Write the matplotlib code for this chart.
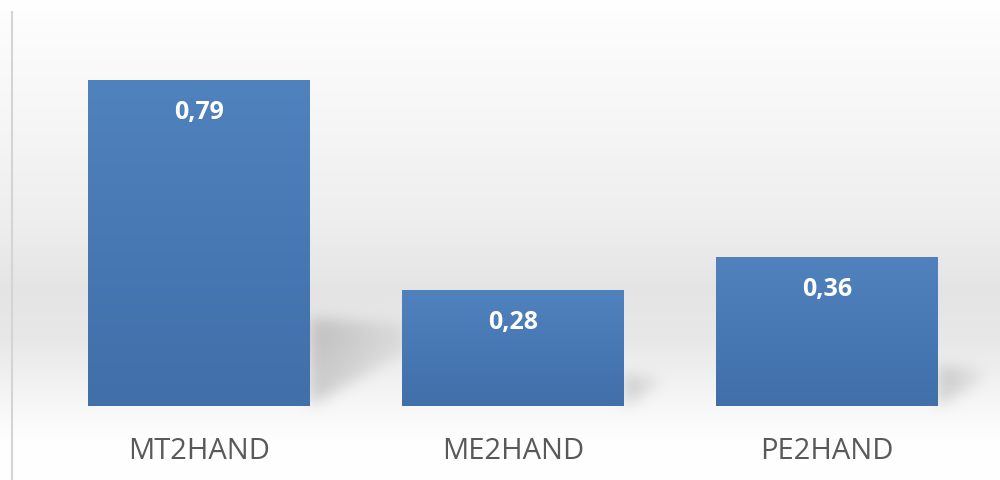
import numpy as np
import matplotlib.pyplot as plt
from matplotlib.path import Path

categories = ["MT2HAND", "ME2HAND", "PE2HAND"]
values = [0.79, 0.28, 0.36]
value_labels = ["0,79", "0,28", "0,36"]

W, H = 1000, 480
fig = plt.figure(figsize=(10, 4.8), dpi=100)

# plot area
ax = fig.add_axes([42 / W, 1 - 406 / H, 942 / W, 394 / H], zorder=2)
ax.set_xlim(-0.5, 2.5)
ax.set_ylim(0, 0.955)
ax.patch.set_alpha(0)
for s in ax.spines.values():
    s.set_visible(False)
ax.set_yticks([])
ax.set_xticks([])

x = np.arange(len(categories))
bars = ax.bar(x, values, width=0.707, color="#4a7ab6", zorder=2)

# gradient fill on bars
grad = np.linspace(0, 1, 256)[:, None]
top_c = np.array([80, 130, 190]) / 255
bot_c = np.array([64, 111, 169]) / 255
grad_img = top_c * (1 - grad[..., None]) + bot_c * grad[..., None]
for b in bars:
    im = ax.imshow(grad_img, extent=[b.get_x(), b.get_x() + b.get_width(), 0, b.get_height()],
                   aspect="auto", zorder=3)
    im.set_clip_path(b)

# value labels inside bars
for b, lab in zip(bars, value_labels):
    ax.annotate(lab, (b.get_x() + b.get_width() / 2, b.get_height()), xytext=(0, -23),
                textcoords="offset points", ha="center", va="center", color="white",
                fontsize=18, fontweight="bold", family="Open Sans", zorder=4)

# category labels
for xi, cat in zip(x, categories):
    ax.annotate(cat, (xi, 0), xytext=(0, -32.5), textcoords="offset points",
                ha="center", va="center", color="#595959", fontsize=21,
                family="Open Sans", annotation_clip=False)

# background with gradient and bar shadows
ys = np.array([0, 30, 120, 220, 290, 340, 400, 440, 480])
gs = np.array([255, 252, 246, 238, 228, 232, 246, 254, 255])
col = np.interp(np.arange(H), ys, gs) / 255
img = np.repeat(col[:, None], W, axis=1)

yy, xx = np.mgrid[0:H, 0:W]
pts = np.column_stack([xx.ravel() + 0.5, yy.ravel() + 0.5])
mask = np.zeros(H * W)
for b in bars:
    (x0, yb), (x1, yt) = ax.transData.transform([(b.get_x(), 0),
                                                  (b.get_x() + b.get_width(), b.get_height())])
    base = H - yb
    hpx = yt - yb
    reach = 0.3 * hpx
    poly = Path([(x1, base - 0.27 * hpx), (x1 + reach, base - 0.25 * hpx),
                 (x1 + reach, base - 0.17 * hpx), (x1, base)])
    inside = poly.contains_points(pts).astype(float)
    # fade towards the far end of the shadow
    fade = np.clip(1 - (pts[:, 0] - x1) / (reach * 1.4), 0.3, 1)
    mask = np.maximum(mask, inside * fade)
mask = mask.reshape(H, W)
k = np.exp(-0.5 * (np.arange(-24, 25) / 7.0) ** 2)
k /= k.sum()
mask = np.apply_along_axis(lambda r: np.convolve(r, k, mode="same"), 1, mask)
mask = np.apply_along_axis(lambda c: np.convolve(c, k, mode="same"), 0, mask)
img = img * (1 - 0.17 * mask)

bg = fig.add_axes([0, 0, 1, 1], zorder=0)
bg.imshow(np.dstack([img] * 3), extent=[0, W, H, 0], aspect="auto")
bg.set_xlim(0, W)
bg.set_ylim(H, 0)
bg.axis("off")
bg.plot([11.5, 11.5], [12, H], color="#d4d4d4", lw=1.5)

fig.savefig("out.png", dpi=100)
